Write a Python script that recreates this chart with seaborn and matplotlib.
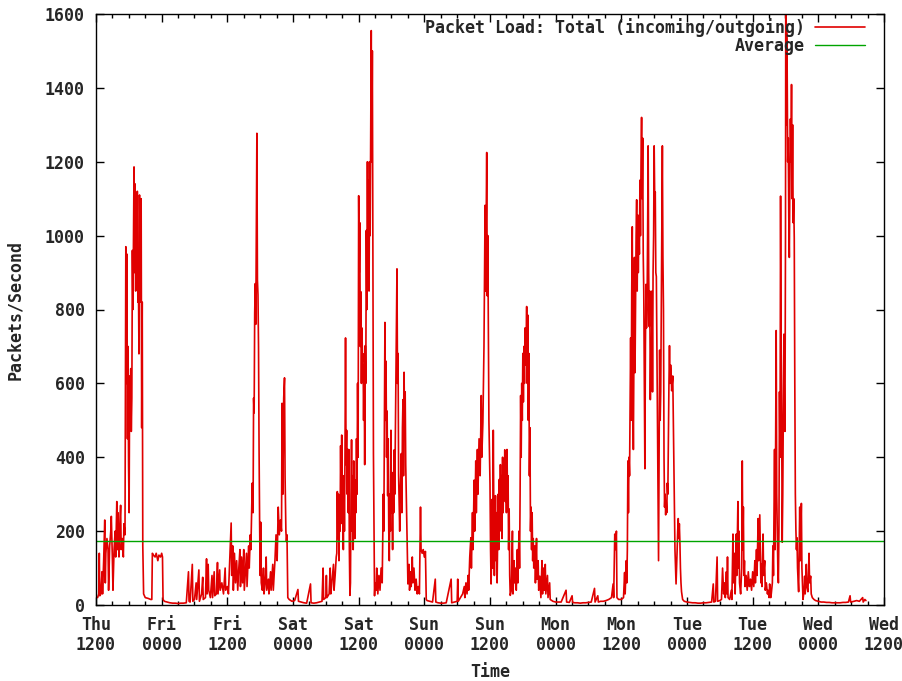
import matplotlib
matplotlib.use("Agg")
import matplotlib.pyplot as plt
import pandas as pd
import seaborn as sns
from matplotlib.ticker import MultipleLocator

# Packet load samples: (hours since Thu 12:00, packets/second)
thu_pm = [(0.3, 20), (0.5, 30), (0.6, 140), (0.7, 25), (0.9, 30), (1.1, 90), (1.2, 30), (1.4, 120),
          (1.6, 230), (1.7, 60), (1.8, 140), (2.0, 180), (2.2, 150), (2.3, 40), (2.5, 160), (2.7, 200),
          (2.8, 240), (3.0, 120), (3.1, 40), (3.3, 150), (3.5, 200), (3.6, 130), (3.8, 280), (3.9, 150),
          (4.0, 250), (4.2, 130), (4.3, 200), (4.5, 270), (4.6, 150), (4.8, 180), (5.0, 130), (5.1, 220),
          (5.3, 190), (5.45, 970), (5.55, 600), (5.65, 950), (5.75, 450), (5.85, 700), (5.95, 380),
          (6.05, 250), (6.15, 620), (6.25, 520), (6.35, 640), (6.45, 470), (6.55, 560), (6.65, 960),
          (6.75, 800), (6.85, 1000), (6.95, 1186), (7.05, 900), (7.15, 1140), (7.25, 850), (7.35, 1100),
          (7.45, 900), (7.55, 1120), (7.65, 820), (7.75, 880), (7.85, 680), (7.95, 1110), (8.05, 830),
          (8.15, 820), (8.25, 1100), (8.35, 480), (8.45, 820), (8.55, 160), (8.7, 30), (9.0, 20),
          (9.5, 18), (10.0, 15), (10.2, 15), (10.3, 140), (10.5, 135), (10.8, 130), (11.0, 140),
          (11.3, 120), (11.5, 135), (11.8, 130), (12.0, 140), (12.15, 130), (12.25, 15)]

fri_am = [(12.5, 10), (13.0, 8), (13.5, 6), (14.0, 5), (14.5, 5), (15.0, 4), (15.5, 5), (16.0, 5),
          (16.5, 6), (16.9, 90), (17.0, 10), (17.2, 8), (17.6, 110), (17.7, 10), (18.0, 15), (18.3, 60),
          (18.4, 15), (18.8, 95), (18.9, 10), (19.3, 30), (19.5, 75), (19.6, 15), (20.0, 20), (20.2, 125),
          (20.3, 30), (20.5, 110), (20.6, 40), (20.9, 20), (21.2, 80), (21.3, 20), (21.6, 90), (21.7, 25),
          (22.0, 30), (22.2, 115), (22.3, 30), (22.6, 95), (22.7, 40), (23.0, 60), (23.3, 30), (23.6, 100),
          (23.7, 40), (24.0, 50)]

fri_pm = [(24.2, 30), (24.5, 150), (24.7, 222), (24.8, 80), (25.0, 160), (25.1, 40), (25.3, 140),
          (25.5, 60), (25.7, 120), (25.9, 40), (26.1, 100), (26.3, 150), (26.4, 50), (26.6, 130),
          (26.8, 60), (27.0, 150), (27.1, 40), (27.3, 90), (27.5, 140), (27.6, 50), (27.9, 160),
          (28.0, 100), (28.2, 190), (28.3, 150), (28.4, 220), (28.55, 330), (28.7, 250), (28.8, 560),
          (28.9, 520), (29.0, 790), (29.1, 870), (29.2, 760), (29.3, 1045), (29.4, 1277), (29.5, 880),
          (29.6, 840), (29.7, 700), (29.8, 420), (29.9, 224), (30.0, 80), (30.1, 224), (30.2, 60),
          (30.4, 40), (30.6, 100), (30.7, 30), (30.9, 60), (31.1, 130), (31.2, 40), (31.5, 70),
          (31.6, 30), (31.9, 90), (32.0, 40), (32.3, 110), (32.4, 40), (32.7, 120), (32.9, 190),
          (33.1, 120), (33.3, 265), (33.5, 190), (33.7, 230), (33.9, 200), (34.0, 546), (34.15, 300),
          (34.3, 560), (34.45, 615), (34.55, 350), (34.7, 200), (34.8, 172), (34.9, 190), (35.05, 20),
          (35.3, 15), (35.8, 10)]

sat_am = [(36.3, 12), (36.9, 42), (37.0, 10), (37.5, 8), (38.0, 6), (38.5, 5), (39.2, 57), (39.3, 6),
          (39.8, 5), (40.3, 6), (40.8, 8), (41.3, 10), (41.5, 100), (41.6, 15), (42.0, 20), (42.1, 80),
          (42.2, 20), (42.6, 30), (42.8, 100), (42.9, 30), (43.1, 60), (43.4, 110), (43.5, 40),
          (43.7, 80), (43.9, 130), (44.0, 140), (44.1, 307), (44.2, 180), (44.3, 300), (44.4, 120),
          (44.5, 250), (44.6, 200), (44.7, 431), (44.8, 260), (44.9, 460), (45.0, 220), (45.1, 290),
          (45.2, 150), (45.3, 350), (45.4, 200), (45.5, 400), (45.6, 723), (45.7, 380), (45.8, 473),
          (45.9, 300), (46.0, 421), (46.1, 250), (46.2, 421), (46.3, 150), (46.4, 26), (46.5, 60),
          (46.6, 300), (46.7, 447), (46.8, 200), (46.9, 350), (47.0, 150), (47.1, 390), (47.2, 300),
          (47.3, 180), (47.4, 338), (47.5, 250), (47.6, 450), (47.7, 300), (47.8, 600), (47.9, 400)]

sat_pm = [(48.0, 1108), (48.1, 900), (48.2, 1035), (48.3, 700), (48.4, 848), (48.5, 600), (48.6, 750),
          (48.7, 660), (48.8, 680), (48.9, 500), (49.0, 650), (49.1, 380), (49.2, 702), (49.3, 600),
          (49.4, 1014), (49.5, 800), (49.6, 1200), (49.7, 900), (49.8, 1150), (49.9, 850), (50.0, 1200),
          (50.1, 1000), (50.2, 1300), (50.3, 1555), (50.4, 1200), (50.5, 1500), (50.6, 900), (50.7, 410),
          (50.8, 200), (50.9, 25), (51.0, 60), (51.2, 40), (51.3, 100), (51.5, 30), (51.7, 80),
          (51.9, 40), (52.1, 100), (52.3, 60), (52.5, 300), (52.6, 200), (52.8, 765), (52.9, 500),
          (53.0, 660), (53.1, 400), (53.2, 525), (53.3, 296), (53.4, 450), (53.5, 200), (53.6, 120),
          (53.7, 300), (53.8, 200), (53.9, 473), (54.0, 250), (54.1, 307), (54.2, 150), (54.3, 359),
          (54.4, 250), (54.5, 420), (54.6, 300), (54.8, 600), (55.0, 910), (55.1, 600), (55.2, 681),
          (55.3, 350), (55.5, 200), (55.6, 300), (55.8, 410), (55.9, 250), (56.0, 480), (56.1, 556),
          (56.2, 350), (56.3, 630), (56.4, 450), (56.5, 577), (56.6, 380), (56.7, 296), (56.8, 200),
          (56.9, 120), (57.0, 57), (57.2, 110), (57.3, 40), (57.5, 90), (57.6, 50), (57.8, 130),
          (57.9, 60), (58.1, 100), (58.3, 40), (58.5, 70), (58.7, 30), (58.9, 50), (59.1, 30),
          (59.3, 265), (59.4, 150), (59.6, 140), (59.8, 150), (60.0, 130), (60.2, 145), (60.35, 15)]

sun_am = [(60.5, 12), (61.0, 10), (61.5, 8), (62.0, 70), (62.1, 8), (62.5, 6), (63.0, 5), (63.5, 5),
          (64.0, 6), (64.9, 70), (65.0, 6), (65.5, 8), (66.0, 10), (66.1, 70), (66.2, 10), (66.6, 20),
          (67.0, 30), (67.3, 50), (67.4, 20), (67.6, 60), (67.8, 30), (68.0, 80), (68.1, 40),
          (68.3, 130), (68.5, 182), (68.6, 100), (68.8, 250), (68.9, 150), (69.1, 338), (69.2, 200),
          (69.4, 390), (69.5, 250), (69.7, 421), (69.8, 300), (70.0, 450), (70.2, 350), (70.4, 567),
          (70.5, 400), (70.7, 494), (70.9, 700), (71.1, 1082), (71.2, 850), (71.4, 1225), (71.5, 837),
          (71.6, 1000), (71.7, 754), (71.8, 500), (72.0, 328), (72.1, 150), (72.2, 57)]

sun_pm = [(72.3, 150), (72.4, 286), (72.5, 100), (72.6, 473), (72.7, 250), (72.8, 80), (72.9, 200),
          (73.0, 296), (73.1, 120), (73.2, 250), (73.3, 60), (73.4, 180), (73.5, 300), (73.6, 150),
          (73.7, 340), (73.8, 200), (73.9, 380), (74.0, 250), (74.1, 350), (74.2, 180), (74.3, 400),
          (74.4, 250), (74.5, 360), (74.6, 300), (74.7, 420), (74.8, 280), (74.9, 400), (75.0, 250),
          (75.1, 421), (75.2, 300), (75.3, 350), (75.4, 150), (75.5, 260), (75.6, 80), (75.7, 26),
          (75.9, 40), (76.1, 200), (76.2, 30), (76.4, 120), (76.5, 60), (76.7, 100), (76.8, 40),
          (77.0, 150), (77.1, 60), (77.3, 200), (77.4, 100), (77.5, 300), (77.6, 567), (77.7, 400),
          (77.8, 600), (77.9, 500), (78.0, 681), (78.1, 550), (78.2, 700), (78.3, 600), (78.4, 750),
          (78.5, 650), (78.6, 700), (78.7, 808), (78.8, 600), (78.9, 785), (79.0, 500), (79.1, 681),
          (79.2, 350), (79.3, 480), (79.4, 200), (79.5, 265), (79.6, 150), (79.7, 250), (79.8, 120),
          (79.9, 180), (80.0, 100), (80.2, 160), (80.3, 60), (80.5, 180), (80.6, 70), (80.8, 120),
          (80.9, 40), (81.1, 78), (81.3, 20), (81.5, 120), (81.6, 30), (81.8, 100), (81.9, 40),
          (82.1, 110), (82.2, 30), (82.5, 80), (82.6, 20), (82.9, 60), (83.0, 15), (83.5, 10)]

mon_am = [(84.0, 8), (84.5, 8), (85.0, 8), (85.9, 40), (86.0, 8), (86.5, 7), (87.0, 25), (87.1, 7),
          (87.5, 6), (88.0, 6), (88.5, 5), (89.0, 6), (89.5, 6), (90.0, 7), (90.5, 8), (91.1, 45),
          (91.2, 8), (91.7, 25), (91.8, 8), (92.2, 10), (92.7, 10), (93.2, 12), (93.7, 15), (94.2, 20),
          (94.5, 57), (94.6, 20), (94.8, 192), (94.9, 150), (95.1, 200), (95.2, 20), (95.5, 15),
          (96.0, 15)]

mon_pm = [(96.4, 20), (96.6, 88), (96.7, 30), (96.9, 120), (97.0, 60), (97.1, 150), (97.2, 390),
          (97.3, 250), (97.4, 400), (97.5, 350), (97.6, 550), (97.7, 723), (97.8, 500), (97.9, 850),
          (98.0, 1024), (98.1, 600), (98.2, 421), (98.3, 700), (98.4, 941), (98.5, 629), (98.6, 800),
          (98.7, 1000), (98.8, 1097), (98.9, 850), (99.0, 1056), (99.1, 900), (99.2, 1014), (99.3, 950),
          (99.4, 1150), (99.5, 1000), (99.6, 1200), (99.7, 1320), (99.8, 1100), (99.9, 1264),
          (100.0, 950), (100.1, 848), (100.2, 600), (100.3, 369), (100.4, 700), (100.5, 868),
          (100.6, 750), (100.7, 800), (100.8, 1000), (100.9, 1243), (101.0, 900), (101.1, 754),
          (101.2, 850), (101.3, 556), (101.4, 700), (101.5, 600), (101.6, 850), (101.7, 577),
          (101.8, 900), (101.9, 1000), (102.0, 1243), (102.1, 1100), (102.2, 1118), (102.3, 900),
          (102.4, 889), (102.5, 700), (102.6, 525), (102.7, 300), (102.8, 120), (102.9, 400),
          (103.0, 690), (103.1, 500), (103.2, 577), (103.3, 800), (103.4, 1000), (103.5, 1243),
          (103.6, 941), (103.7, 800), (103.8, 400), (103.9, 265), (104.0, 300), (104.1, 244),
          (104.2, 280), (104.3, 250), (104.4, 330), (104.5, 300), (104.6, 450), (104.7, 600),
          (104.8, 702), (104.9, 600), (105.0, 650), (105.1, 629), (105.2, 580), (105.3, 600),
          (105.4, 620), (105.5, 500), (105.6, 400), (105.7, 275), (105.8, 150), (105.9, 100),
          (106.0, 57), (106.1, 100), (106.2, 150), (106.3, 200), (106.4, 234), (106.5, 180),
          (106.6, 220), (106.7, 172), (106.8, 100), (106.9, 60), (107.0, 36), (107.2, 15), (107.5, 10)]

tue_am = [(108.0, 8), (108.5, 7), (109.0, 6), (109.5, 6), (110.0, 5), (110.5, 5), (111.0, 6),
          (111.5, 6), (112.0, 7), (112.5, 8), (112.8, 57), (112.9, 8), (113.2, 10), (113.5, 130),
          (113.6, 10), (114.0, 12), (114.3, 15), (114.5, 100), (114.7, 30), (114.9, 60), (115.0, 20),
          (115.2, 90), (115.3, 30), (115.4, 130), (115.5, 20), (115.8, 15), (116.1, 40), (116.2, 15),
          (116.4, 192), (116.5, 60), (116.7, 140), (116.8, 30), (117.0, 192), (117.1, 80), (117.3, 280),
          (117.4, 100), (117.5, 200), (117.6, 60), (117.8, 30), (118.0, 100), (118.1, 390), (118.2, 150),
          (118.3, 265), (118.4, 80), (118.5, 120), (118.6, 50), (118.8, 80), (119.0, 40), (119.2, 90),
          (119.4, 50), (119.6, 70), (119.8, 40), (120.0, 90)]

tue_pm = [(120.2, 50), (120.4, 120), (120.5, 60), (120.7, 150), (120.8, 80), (121.0, 234), (121.1, 120),
          (121.3, 244), (121.4, 160), (121.5, 60), (121.6, 110), (121.7, 50), (121.9, 192), (122.0, 80),
          (122.2, 120), (122.3, 40), (122.5, 60), (122.7, 30), (122.8, 40), (123.0, 20), (123.1, 57),
          (123.3, 20), (123.4, 30), (123.6, 60), (123.7, 160), (123.8, 80), (124.0, 421), (124.1, 150),
          (124.3, 743), (124.4, 300), (124.6, 100), (124.7, 60), (124.8, 200), (124.9, 577),
          (125.0, 400), (125.1, 1107), (125.2, 700), (125.3, 500), (125.4, 170), (125.5, 300),
          (125.7, 733), (125.8, 500), (125.9, 470), (126.0, 1000), (126.05, 1650), (126.1, 1300),
          (126.2, 1550), (126.3, 1461), (126.4, 1200), (126.5, 1264), (126.6, 1050), (126.7, 941),
          (126.8, 1150), (126.9, 1316), (127.0, 1200), (127.1, 1409), (127.2, 1100), (127.3, 1300),
          (127.4, 1035), (127.5, 1100), (127.6, 993), (127.7, 600), (127.8, 300), (127.9, 203),
          (128.0, 150), (128.1, 182), (128.2, 100), (128.4, 36), (128.5, 150), (128.6, 265),
          (128.7, 120), (128.9, 275), (129.0, 100), (129.2, 15), (129.4, 40), (129.5, 78), (129.6, 30),
          (129.8, 110), (129.9, 50), (130.1, 36), (130.3, 140), (130.4, 60), (130.6, 78), (130.7, 30),
          (130.9, 20), (131.2, 15), (131.5, 12)]

wed_am = [(132.0, 10), (132.5, 8), (133.0, 8), (133.5, 7), (134.0, 7), (134.5, 6), (135.0, 6),
          (135.5, 6), (136.0, 6), (136.5, 7), (137.0, 7), (137.5, 8), (137.8, 25), (137.9, 8),
          (138.5, 10), (139.0, 12), (139.5, 10), (140.1, 20), (140.2, 8), (140.5, 15), (140.7, 12)]

average_pps = 173

tick_hours = list(range(0, 145, 12))
tick_labels = ["Thu\n1200", "Fri\n0000", "Fri\n1200", "Sat\n0000", "Sat\n1200", "Sun\n0000",
               "Sun\n1200", "Mon\n0000", "Mon\n1200", "Tue\n0000", "Tue\n1200", "Wed\n0000",
               "Wed\n1200"]

segments = [thu_pm, fri_am, fri_pm, sat_am, sat_pm, sun_am, sun_pm, mon_am, mon_pm,
            tue_am, tue_pm, wed_am]
df = pd.DataFrame({
    "hours": [h for seg in segments for h, _ in seg],
    "pps": [v for seg in segments for _, v in seg],
})

sns.set_style("ticks")
plt.rcParams["font.family"] = ["DejaVu Sans Mono"]
plt.rcParams["font.weight"] = "bold"
plt.rcParams["axes.labelweight"] = "bold"

FS = 12
fig = plt.figure(figsize=(9.03, 6.81), dpi=100)
ax = fig.add_axes([96 / 903, 1 - 605 / 681, 788 / 903, 591 / 681])

sns.lineplot(data=df, x="hours", y="pps", ax=ax, color="#e00000", lw=1.2,
             estimator=None, sort=False, label="Packet Load: Total (incoming/outgoing)")
ax.axhline(average_pps, color="#00a400", lw=1.0, label="Average")

ax.set_xlim(0, 144)
ax.set_ylim(0, 1600)
ax.set_xticks(tick_hours)
ax.set_xticklabels(tick_labels, linespacing=1.1)
ax.xaxis.set_minor_locator(MultipleLocator(3))
ax.yaxis.set_major_locator(MultipleLocator(200))

ax.tick_params(which="both", direction="in", top=True, right=True, color="black",
               labelsize=FS, pad=8, width=1)
ax.tick_params(which="major", length=6)
ax.tick_params(which="minor", length=3)
for sp in ax.spines.values():
    sp.set_visible(True)
    sp.set_color("black")
    sp.set_linewidth(1)

ax.set_xlabel("Time", fontsize=FS)
ax.set_ylabel("Packets/Second", fontsize=FS)
ax.xaxis.set_label_coords(0.5, -0.098)
ax.yaxis.set_label_coords(-0.091, 0.5)

ax.legend(loc="upper right", bbox_to_anchor=(0.976, 0.993), frameon=False, markerfirst=False,
          handlelength=3.0, handletextpad=0.6, labelspacing=0.0, borderpad=0,
          borderaxespad=0, fontsize=FS)

fig.savefig("out.png", dpi=100)
